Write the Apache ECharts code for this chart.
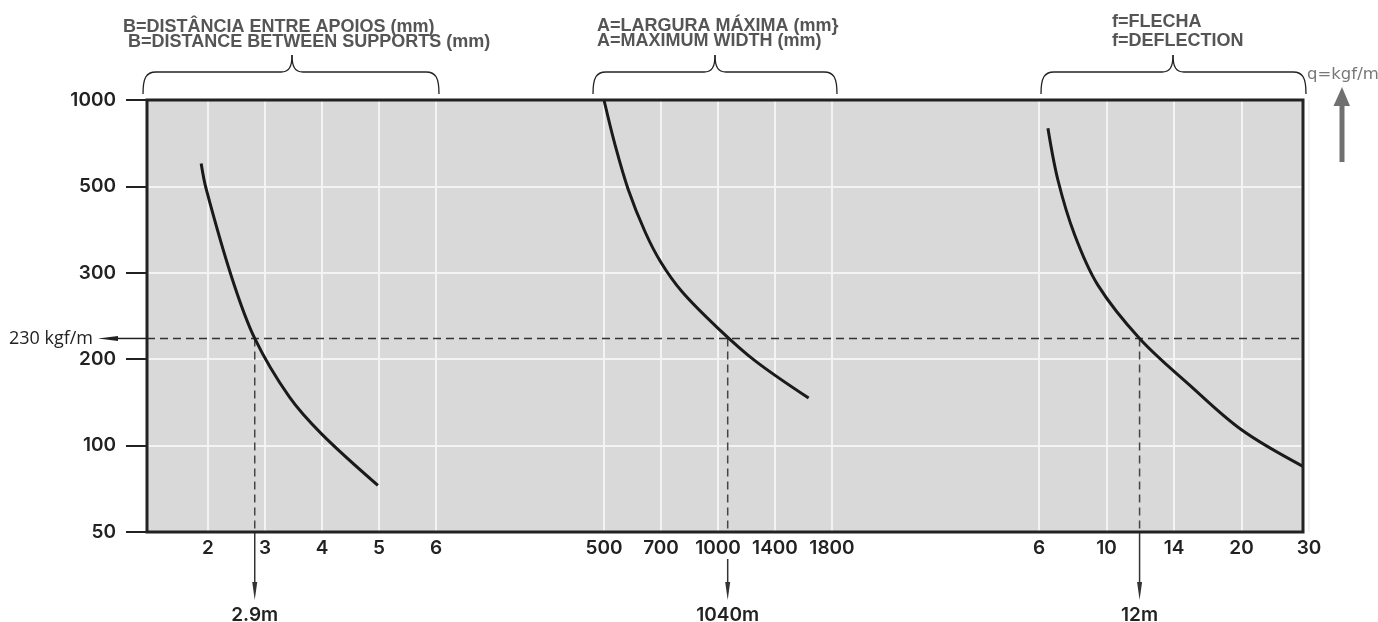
<!DOCTYPE html>
<html>
<head>
<meta charset="utf-8">
<script src="https://cdn.jsdelivr.net/npm/echarts@6/dist/echarts.min.js"></script>
<style>
html, body { margin: 0; padding: 0; background: #fff; }
#chart { width: 1378px; height: 622px; }
</style>
</head>
<body>
<div id="chart"></div>
<script>
// q = kgf/m, ticks are evenly spaced on the chart
const loadTicks = [50, 100, 200, 300, 500, 1000];
// B = distance between supports (m)
const spanTicks = [2, 3, 4, 5, 6];
// A = maximum width (mm)
const widthTicks = [500, 700, 1000, 1400, 1800];
// f = deflection
const deflTicks = [6, 10, 14, 20, 30];

// curves [x, q]
const spanCurve = [[1.88, 633], [1.97, 493], [2.41, 296], [2.82, 224], [3.43, 156], [4.0, 113], [4.98, 77]];
const widthCurve = [[500, 1000], [539, 739], [585, 493], [644, 395], [699, 325], [811, 278], [999, 236], [1261, 198], [1636, 155]];
const deflCurve = [[6.53, 836], [7.12, 537], [8.11, 388], [9.48, 286], [11.96, 224], [15.39, 170], [20.05, 118], [29.1, 88]];

// reading example (as drawn)
const refLoad = 224;
const refLoadLabel = '230 kgf/m';
const refReads = [2.82, 1068, 11.96];
const refLabels = ['2.9m', '1040m', '12m'];

const titles = [
    ['B=DISTÂNCIA ENTRE APOIOS (mm)', 'B=DISTANCE BETWEEN SUPPORTS (mm)'],
    ['A=LARGURA MÁXIMA (mm}', 'A=MAXIMUM WIDTH (mm)'],
    ['f=FLECHA', 'f=DEFLECTION']
];

// piecewise linear position between evenly spaced ticks
function toIdx(v, ticks) {
    let i = 0;
    while (i < ticks.length - 2 && v > ticks[i + 1]) i++;
    return i + (v - ticks[i]) / (ticks[i + 1] - ticks[i]);
}

const sections = [spanTicks, widthTicks, deflTicks];
const curves = [spanCurve, widthCurve, deflCurve];
// first section starts one slot early so its curve is not cut
const sectionMin = [-1, 0, 0];

const chart = echarts.init(document.getElementById('chart'));

const labelFont = { fontFamily: 'Inter', fontWeight: 600, fontSize: 19, color: '#222' };
const gridLine = { show: true, showMinLine: false, showMaxLine: false, lineStyle: { color: '#f3f3f3', width: 2 } };
const TOP = 100, BOTTOM = 90;

const option = {
    animation: false,
    grid: [
        { left: 147, right: 75, top: TOP, bottom: BOTTOM, show: true, backgroundColor: '#d9d9d9', borderWidth: 0 },
        { left: 151, right: 942, top: TOP, bottom: BOTTOM },
        { left: 604, right: 546, top: TOP, bottom: BOTTOM },
        { left: 1039, right: 69, top: TOP, bottom: BOTTOM }
    ],
    xAxis: [
        { gridIndex: 0, type: 'value', min: 0, max: 1, show: false }
    ].concat(sections.map((ticks, i) => ({
        gridIndex: i + 1,
        type: 'value',
        min: sectionMin[i],
        max: ticks.length - 1,
        interval: 1,
        axisLine: { show: false },
        axisTick: { show: false },
        splitLine: Object.assign({}, gridLine, { showMinLine: sectionMin[i] === 0, showMaxLine: true }),
        axisLabel: Object.assign({ margin: 7, formatter: v => (v >= 0 ? String(ticks[v]) : '') }, labelFont)
    }))),
    yAxis: [
        {
            gridIndex: 0,
            type: 'value',
            min: 0,
            max: loadTicks.length - 1,
            interval: 1,
            axisLine: { show: false },
            axisTick: { show: true, length: 21, lineStyle: { color: '#222', width: 2 } },
            splitLine: gridLine,
            axisLabel: Object.assign({ margin: 31, formatter: v => loadTicks[v] }, labelFont)
        }
    ].concat([1, 2, 3].map(g => ({
        gridIndex: g, type: 'value', min: 0, max: loadTicks.length - 1, show: false
    }))),
    series: []
};

const rY = toIdx(refLoad, loadTicks);

// horizontal reading line across the whole plot
option.series.push({
    type: 'line',
    xAxisIndex: 0,
    yAxisIndex: 0,
    data: [[0, rY], [1, rY]],
    showSymbol: false,
    lineStyle: { color: '#333', width: 1.5, type: [8, 5] },
    z: 3
});

sections.forEach((ticks, i) => {
    option.series.push({
        type: 'line',
        xAxisIndex: i + 1,
        yAxisIndex: i + 1,
        data: curves[i].map(p => [toIdx(p[0], ticks), toIdx(p[1], loadTicks)]),
        smooth: 0.35,
        showSymbol: false,
        clip: false,
        lineStyle: { color: '#1a1a1a', width: 3 },
        z: 4
    });
    const rx = toIdx(refReads[i], ticks);
    option.series.push({
        type: 'line',
        xAxisIndex: i + 1,
        yAxisIndex: i + 1,
        data: [[rx, rY], [rx, 0]],
        showSymbol: false,
        lineStyle: { color: '#444', width: 1.5, type: [8, 5] },
        z: 3
    });
});

chart.setOption(option);

// annotations around the plot
const graphic = [];
const refPt = chart.convertToPixel({ gridIndex: 0 }, [0, rY]);
const corner0 = chart.convertToPixel({ gridIndex: 0 }, [0, 0]);
const corner1 = chart.convertToPixel({ gridIndex: 0 }, [1, loadTicks.length - 1]);
const plotBottom = corner0[1];
const yr = refPt[1];

// plot frame on top of the grid lines
graphic.push({
    type: 'rect', z: 100,
    shape: { x: corner0[0], y: corner1[1], width: corner1[0] - corner0[0], height: corner0[1] - corner1[1] },
    style: { fill: null, stroke: '#222', lineWidth: 3 }
});

graphic.push(
    { type: 'line', shape: { x1: 116, y1: yr, x2: refPt[0], y2: yr }, style: { stroke: '#222', lineWidth: 1.5 } },
    { type: 'polygon', shape: { points: [[98, yr], [118, yr - 2.5], [118, yr + 2.5]] }, style: { fill: '#222' } },
    { type: 'text', style: { x: 93, y: yr, text: refLoadLabel, align: 'right', verticalAlign: 'middle', font: '400 18px "Open Sans"', fill: '#222' } }
);

sections.forEach((ticks, i) => {
    const px = chart.convertToPixel({ gridIndex: i + 1 }, [toIdx(refReads[i], ticks), 0])[0];
    const gap = i === 1 ? 27 : 0;
    graphic.push(
        { type: 'line', shape: { x1: px, y1: plotBottom + gap, x2: px, y2: 584 }, style: { stroke: '#333', lineWidth: 1.5 } },
        { type: 'polygon', shape: { points: [[px - 2.5, 582], [px + 2.5, 582], [px, 600]] }, style: { fill: '#333' } },
        { type: 'text', style: { x: px, y: 615, text: refLabels[i], align: 'center', verticalAlign: 'middle', font: '600 19px Inter', fill: '#222' } }
    );
});

// braces over each section
function brace(x1, x2, cx) {
    const yb = 94, yh = 72, yt = 55, r = 13, c = 11;
    const st = { stroke: '#222', lineWidth: 1.3, fill: null };
    return [
        { type: 'bezierCurve', shape: { x1: x1, y1: yb, cpx1: x1, cpy1: yh + 6, cpx2: x1 + 3, cpy2: yh, x2: x1 + r, y2: yh }, style: st },
        { type: 'line', shape: { x1: x1 + r, y1: yh, x2: cx - c, y2: yh }, style: st },
        { type: 'bezierCurve', shape: { x1: cx - c, y1: yh, cpx1: cx - 3, cpy1: yh, cpx2: cx, cpy2: yh - 5, x2: cx, y2: yt }, style: st },
        { type: 'bezierCurve', shape: { x1: cx, y1: yt, cpx1: cx, cpy1: yh - 5, cpx2: cx + 3, cpy2: yh, x2: cx + c, y2: yh }, style: st },
        { type: 'line', shape: { x1: cx + c, y1: yh, x2: x2 - r, y2: yh }, style: st },
        { type: 'bezierCurve', shape: { x1: x2 - r, y1: yh, cpx1: x2 - 3, cpy1: yh, cpx2: x2, cpy2: yh + 6, x2: x2, y2: yb }, style: st }
    ];
}
[[143, 439, 292], [593, 837, 715], [1041, 1306, 1173]].forEach(b => {
    brace(b[0], b[1], b[2]).forEach(el => graphic.push(el));
});

// section titles
const titlePos = [[[123, 27], [128, 42]], [[597, 26], [597, 41]], [[1112, 22], [1112, 41]]];
titles.forEach((lines, i) => {
    lines.forEach((t, j) => {
        graphic.push({ type: 'text', style: { x: titlePos[i][j][0], y: titlePos[i][j][1], text: t, verticalAlign: 'middle', font: 'bold 18px "Liberation Sans"', fill: '#555' } });
    });
});

// q=kgf/m with upward arrow
graphic.push(
    { type: 'text', style: { x: 1307, y: 75, text: 'q=kgf/m', verticalAlign: 'middle', font: '16.5px "DejaVu Sans"', fill: '#777' } },
    { type: 'rect', shape: { x: 1339.5, y: 104, width: 5, height: 58 }, style: { fill: '#707070' } },
    { type: 'polygon', shape: { points: [[1333.5, 106], [1350, 106], [1342, 87]] }, style: { fill: '#707070' } }
);

chart.setOption({ graphic: graphic });
window.addEventListener('resize', () => chart.resize());
</script>
</body>
</html>
